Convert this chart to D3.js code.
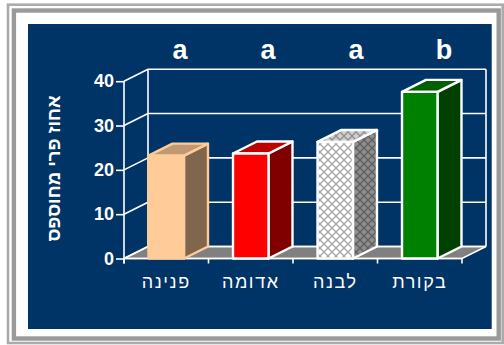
<!DOCTYPE html>
<html><head><meta charset="utf-8">
<script src="https://cdn.jsdelivr.net/npm/d3@7"></script>
<style>html,body{margin:0;padding:0;background:#fff;}svg{display:block;}</style>
</head><body>
<script>
const categories = ["פנינה", "אדומה", "לבנה", "בקורת"];
const values = [23.2, 23.7, 26.3, 37.6];
const sigLetters = ["a", "a", "a", "b"];
const yTicks = [0, 10, 20, 30, 40];
const yTitle = "אחוז פרי מחוספס";

const W = 504, H = 345;
const svg = d3.select("body").append("svg").attr("width", W).attr("height", H);
const defs = svg.append("defs");
const FONT = "'Liberation Sans', Arial, sans-serif";

// frame
svg.append("rect").attr("x", 8).attr("y", 4.7).attr("width", 494.7).attr("height", 338.3)
  .attr("fill", "none").attr("stroke", "#ababab").attr("stroke-width", 2.6);
svg.append("rect").attr("x", 13.9).attr("y", 10.5).attr("width", 484.8).attr("height", 328)
  .attr("fill", "#fff").attr("stroke", "#9a9a9a").attr("stroke-width", 4.4);
svg.append("rect").attr("x", 28).attr("y", 24).attr("width", 463.7).attr("height", 305)
  .attr("fill", "#003366");

// patterns for white bar
function hatch(id, bg, fg) {
  const p = defs.append("pattern").attr("id", id).attr("patternUnits", "userSpaceOnUse")
    .attr("width", 8).attr("height", 8);
  p.append("rect").attr("width", 8).attr("height", 8).attr("fill", bg);
  p.append("path").attr("d", "M0,0L8,8M8,0L0,8").attr("stroke", fg).attr("stroke-width", 1.3).attr("fill", "none");
}
hatch("hFront", "#ffffff", "#a6a6a6");
hatch("hSide", "#8e8e8e", "#5e5e5e");
hatch("hTop", "#cfcfcf", "#8f8f8f");

const styles = [
  {front: "#FFCC99", side: "#80664C", top: "#BF9973", stroke: "#FFCC99"},
  {front: "#FF0000", side: "#800000", top: "#BF0000", stroke: "#ffffff"},
  {front: "url(#hFront)", side: "url(#hSide)", top: "url(#hTop)", stroke: "#ffffff"},
  {front: "#008000", side: "#004000", top: "#006000", stroke: "#ffffff"}
];

const x0 = 124, x1 = 462, dx = 24, dy = 12;
const y = d3.scaleLinear().domain([0, 40]).range([258.5, 81.2]);
const x = d3.scaleBand().domain(categories).range([x0, x1]);
const barW = x.bandwidth() * 0.42;

const g = svg.append("g");
const line = (a, b, c, d) => g.append("line").attr("x1", a).attr("y1", b).attr("x2", c).attr("y2", d)
  .attr("stroke", "#fff").attr("stroke-width", 1.6);

// floor
g.append("path").attr("d", `M${x0},${y(0)}L${x1},${y(0)}L${x1+dx},${y(0)-dy}L${x0+dx},${y(0)-dy}Z`)
  .attr("fill", "#808080").attr("stroke", "#fff").attr("stroke-width", 1.6);
// back wall grid
yTicks.forEach(v => {
  line(x0 + dx, y(v) - dy, x1 + dx, y(v) - dy);
  line(x0, y(v), x0 + dx, y(v) - dy);
});
line(x0 + dx, y(40) - dy, x0 + dx, y(0) - dy);
line(x1 + dx, y(40) - dy, x1 + dx, y(0) - dy);
// front axes
line(x0, y(40), x0, y(0) + 5);
line(x0, y(0), x1, y(0));
[x0, ...categories.map(c => x(c) + x.bandwidth())].forEach(t => line(t, y(0), t, y(0) + 5));

// y axis ticks/labels
const yAxis = svg.append("g").attr("transform", `translate(${x0},0)`)
  .call(d3.axisLeft(y).tickValues(yTicks).tickSize(8).tickPadding(2));
yAxis.select(".domain").remove();
yAxis.selectAll("line").attr("stroke", "#fff").attr("stroke-width", 1.6);
yAxis.selectAll("text").attr("fill", "#fff").style("font-family", FONT)
  .style("font-weight", "bold").style("font-size", "18px");

// bars
categories.forEach((c, i) => {
  const cx = x(c) + x.bandwidth() / 2;
  const l = cx - barW / 2, r = cx + barW / 2, t = y(values[i]), b = y(0);
  const s = styles[i];
  const bg = g.append("g").attr("stroke", s.stroke).attr("stroke-width", 2.4).attr("stroke-linejoin", "round");
  bg.append("path").attr("d", `M${r},${b}L${r+dx},${b-dy}L${r+dx},${t-dy}L${r},${t}Z`).attr("fill", s.side);
  bg.append("path").attr("d", `M${l},${t}L${r},${t}L${r+dx},${t-dy}L${l+dx},${t-dy}Z`).attr("fill", s.top);
  bg.append("rect").attr("x", l).attr("y", t).attr("width", barW).attr("height", b - t).attr("fill", s.front);
});

// category labels
const xAxis = svg.append("g").attr("transform", `translate(0,${y(0)})`)
  .call(d3.axisBottom(x).tickSize(0).tickPadding(29.5));
xAxis.select(".domain").remove();
xAxis.selectAll("text").attr("fill", "#fff").attr("dy", 0).style("font-family", FONT)
  .style("font-size", "18px").style("letter-spacing", "1.6px");

// significance letters
const lx = d3.scalePoint().domain(d3.range(sigLetters.length)).range([180, 444]);
svg.append("g").selectAll("text").data(sigLetters).join("text")
  .attr("x", (d, i) => lx(i)).attr("y", 58.5).attr("text-anchor", "middle")
  .attr("fill", "#fff").style("font-family", FONT).style("font-weight", "bold").style("font-size", "27px")
  .text(d => d);

// y title
svg.append("text").attr("transform", `translate(60,168.5) rotate(-90)`)
  .attr("text-anchor", "middle").attr("fill", "#fff").attr("direction", "rtl")
  .style("font-family", FONT).style("font-weight", "bold").style("font-size", "18.5px")
  .text(yTitle);
</script>
</body></html>
